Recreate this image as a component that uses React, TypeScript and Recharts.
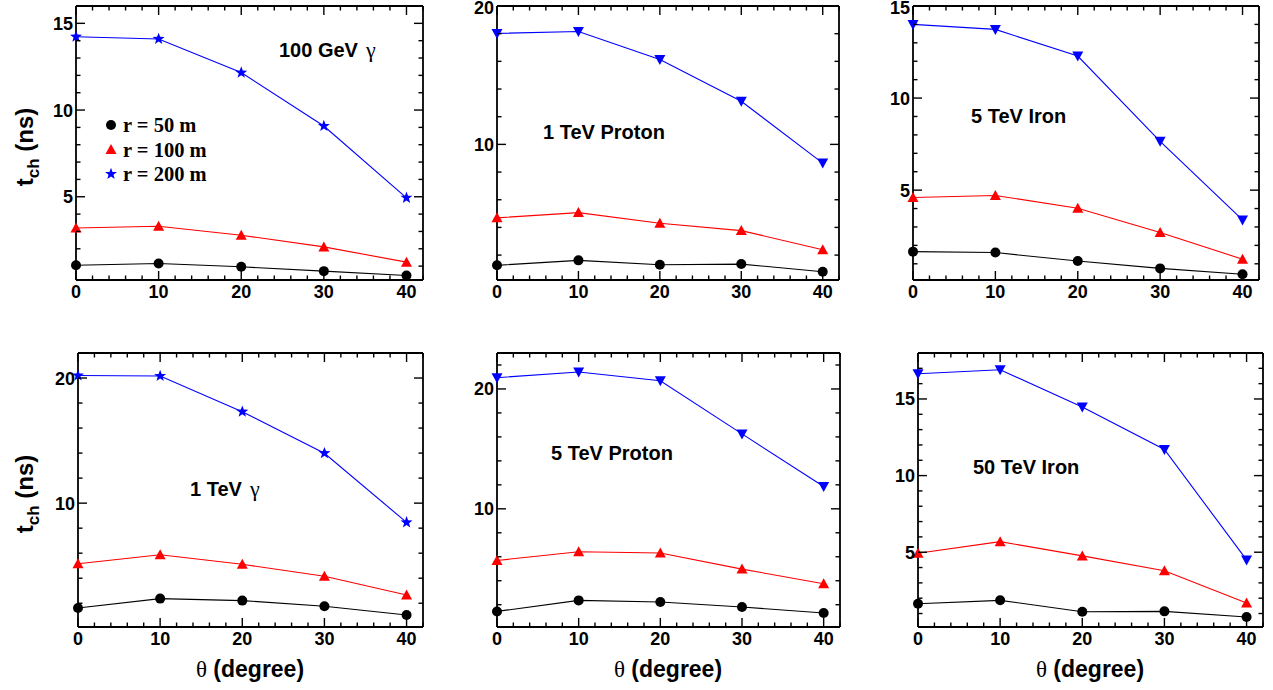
import { LineChart, Line, XAxis, YAxis, ReferenceLine } from 'recharts';

const angles = [0, 10, 20, 30, 40];

// 100 GeV gamma
const gamma100R50 = [1.05, 1.15, 0.96, 0.71, 0.46];
const gamma100R100 = [3.2, 3.3, 2.78, 2.11, 1.23];
const gamma100R200 = [14.23, 14.1, 12.16, 9.08, 4.94];
// 1 TeV proton
const proton1R50 = [1.26, 1.62, 1.3, 1.35, 0.8];
const proton1R100 = [4.69, 5.07, 4.3, 3.77, 2.39];
const proton1R200 = [18.02, 18.16, 16.14, 13.12, 8.65];
// 5 TeV iron
const iron5R50 = [1.66, 1.61, 1.15, 0.75, 0.43];
const iron5R100 = [4.6, 4.71, 4.02, 2.7, 1.25];
const iron5R200 = [14.0, 13.73, 12.28, 7.65, 3.38];
// 1 TeV gamma
const gamma1R50 = [1.62, 2.37, 2.21, 1.76, 1.06];
const gamma1R100 = [5.16, 5.88, 5.11, 4.15, 2.66];
const gamma1R200 = [20.2, 20.16, 17.31, 13.99, 8.46];
// 5 TeV proton
const proton5R50 = [1.44, 2.36, 2.22, 1.81, 1.31];
const proton5R100 = [5.69, 6.42, 6.31, 4.97, 3.75];
const proton5R200 = [20.94, 21.42, 20.69, 16.25, 11.86];
// 50 TeV iron
const iron50R50 = [1.64, 1.86, 1.12, 1.14, 0.77];
const iron50R100 = [4.93, 5.69, 4.76, 3.79, 1.68];
const iron50R200 = [16.65, 16.91, 14.48, 11.7, 4.5];

const xTicks = [0, 2, 4, 6, 8, 10, 12, 14, 16, 18, 20, 22, 24, 26, 28, 30, 32, 34, 36, 38, 40, 42];
const xMajor = [0, 10, 20, 30, 40];
const yTicksFine16 = [1, 2, 3, 4, 5, 6, 7, 8, 9, 10, 11, 12, 13, 14, 15, 16];
const yTicksFine15 = [1, 2, 3, 4, 5, 6, 7, 8, 9, 10, 11, 12, 13, 14, 15];
const yTicksFine18 = [1, 2, 3, 4, 5, 6, 7, 8, 9, 10, 11, 12, 13, 14, 15, 16, 17, 18];
const yTicks20 = [2, 4, 6, 8, 10, 12, 14, 16, 18, 20];
const yTicks22 = [2, 4, 6, 8, 10, 12, 14, 16, 18, 20, 22];
const yMajor5 = [5, 10, 15];
const yMajor10 = [10, 20];

const legendLabels = ['r = 50 m', 'r = 100 m', 'r = 200 m'];

const SANS = '"Liberation Sans", Arial, sans-serif';
const SERIF = '"Liberation Serif", "Times New Roman", serif';

const panels = [
  { name: '100 GeV', gamma: true, r50: gamma100R50, r100: gamma100R100, r200: gamma100R200, star: true,
    yDomain: [0.2, 16], yTicks: yTicksFine16, yMajor: yMajor5,
    box: { l: 76, t: 6, r: 423, b: 280 }, lab: { x: 279, y: 57 } },
  { name: '1 TeV Proton', gamma: false, r50: proton1R50, r100: proton1R100, r200: proton1R200, star: false,
    yDomain: [0.2, 20], yTicks: yTicks20, yMajor: yMajor10,
    box: { l: 497, t: 6, r: 839, b: 280 }, lab: { x: 543, y: 139 } },
  { name: '5 TeV Iron', gamma: false, r50: iron5R50, r100: iron5R100, r200: iron5R200, star: false,
    yDomain: [0.12, 15], yTicks: yTicksFine15, yMajor: yMajor5,
    box: { l: 913, t: 6, r: 1259, b: 280 }, lab: { x: 971, y: 123 } },
  { name: '1 TeV', gamma: true, r50: gamma1R50, r100: gamma1R100, r200: gamma1R200, star: true,
    yDomain: [0.1, 22], yTicks: yTicks22, yMajor: yMajor10,
    box: { l: 78, t: 353, r: 423, b: 627 }, lab: { x: 190, y: 496 } },
  { name: '5 TeV Proton', gamma: false, r50: proton5R50, r100: proton5R100, r200: proton5R200, star: false,
    yDomain: [0.14, 23], yTicks: yTicks22, yMajor: yMajor10,
    box: { l: 497, t: 353, r: 840, b: 627 }, lab: { x: 551, y: 460 } },
  { name: '50 TeV Iron', gamma: false, r50: iron50R50, r100: iron50R100, r200: iron50R200, star: false,
    yDomain: [0.12, 18], yTicks: yTicksFine18, yMajor: yMajor5,
    box: { l: 918, t: 353, r: 1263, b: 627 }, lab: { x: 973, y: 474 } },
];

const starPath = (cx: number, cy: number, ro: number, ri: number) => {
  let d = '';
  for (let i = 0; i < 10; i++) {
    const a = -Math.PI / 2 + (i * Math.PI) / 5;
    const rr = i % 2 === 0 ? ro : ri;
    d += (i === 0 ? 'M' : 'L') + (cx + rr * Math.cos(a)).toFixed(2) + ' ' + (cy + rr * Math.sin(a)).toFixed(2);
  }
  return d + 'Z';
};

const Circle = (cx: number, cy: number, k?: any) => <circle key={k} cx={cx} cy={cy} r={5} fill="#000" />;
const TriUp = (cx: number, cy: number, k?: any) => (
  <path key={k} d={`M${cx - 5.5} ${cy + 4.5}L${cx + 5.5} ${cy + 4.5}L${cx} ${cy - 5.5}Z`} fill="#ff0000" />
);
const TriDown = (cx: number, cy: number, k?: any) => (
  <path key={k} d={`M${cx - 5.5} ${cy - 4.5}L${cx + 5.5} ${cy - 4.5}L${cx} ${cy + 5.5}Z`} fill="#0000ff" />
);
const Star = (cx: number, cy: number, k?: any) => <path key={k} d={starPath(cx, cy, 6.3, 2.6)} fill="#0000ff" />;

const dotFn = (shape: (cx: number, cy: number, k?: any) => any) => (p: any) => shape(p.cx, p.cy, `d${p.index}`);

function Panel({ p }: { p: (typeof panels)[number] }) {
  const plotW = p.box.r - p.box.l;
  const plotH = p.box.b - p.box.t;
  const data = angles.map((a, i) => ({ theta: a, r50: p.r50[i], r100: p.r100[i], r200: p.r200[i] }));

  const yTick = (props: any) => {
    const { x, y, payload } = props;
    const v = payload.value;
    const major = p.yMajor.includes(v);
    const len = major ? 9 : 4.5;
    // keep labels at the very top of the page from being cut off
    const shift = Math.max(0, 8 - (y + p.box.t - 10));
    return (
      <g>
        <line x1={x} y1={y} x2={x + len} y2={y} stroke="#000" strokeWidth={1.4} />
        <line x1={x + plotW} y1={y} x2={x + plotW - len} y2={y} stroke="#000" strokeWidth={1.4} />
        {major && (
          <text x={x - 3} y={y + shift} dy="0.36em" textAnchor="end" fontFamily={SANS} fontWeight="bold" fontSize={18} fill="#000">
            {v}
          </text>
        )}
      </g>
    );
  };

  const xTick = (props: any) => {
    const { x, y, payload } = props;
    const v = payload.value;
    const major = xMajor.includes(v);
    const len = major ? 9 : 4.5;
    return (
      <g>
        <line x1={x} y1={y} x2={x} y2={y - len} stroke="#000" strokeWidth={1.4} />
        <line x1={x} y1={y - plotH} x2={x} y2={y - plotH + len} stroke="#000" strokeWidth={1.4} />
        {major && (
          <text x={x} y={y + 18} textAnchor="middle" fontFamily={SANS} fontWeight="bold" fontSize={18} fill="#000">
            {v}
          </text>
        )}
      </g>
    );
  };

  return (
    <div style={{ position: 'absolute', left: p.box.l - 50, top: p.box.t - 10 }}>
      <LineChart width={plotW + 60} height={plotH + 40} data={data} margin={{ top: 10, right: 10, left: 0, bottom: 0 }}>
        <XAxis
          dataKey="theta"
          type="number"
          domain={[0, 42]}
          ticks={xTicks}
          interval={0}
          tick={xTick}
          tickLine={false}
          tickSize={0}
          tickMargin={0}
          height={30}
          axisLine={{ stroke: '#000', strokeWidth: 1.8 }}
        />
        <YAxis
          type="number"
          domain={p.yDomain}
          ticks={p.yTicks}
          interval={0}
          tick={yTick}
          tickLine={false}
          tickSize={0}
          tickMargin={0}
          width={50}
          axisLine={{ stroke: '#000', strokeWidth: 1.8 }}
        />
        <ReferenceLine x={42} stroke="#000" strokeWidth={1.8} />
        <ReferenceLine y={p.yDomain[1]} stroke="#000" strokeWidth={1.8} />
        <Line dataKey="r50" stroke="#000" strokeWidth={1.1} dot={dotFn(Circle)} activeDot={false} isAnimationActive={false} />
        <Line dataKey="r100" stroke="#ff0000" strokeWidth={1.1} dot={dotFn(TriUp)} activeDot={false} isAnimationActive={false} />
        <Line dataKey="r200" stroke="#0000ff" strokeWidth={1.1} dot={dotFn(p.star ? Star : TriDown)} activeDot={false} isAnimationActive={false} />
      </LineChart>
    </div>
  );
}

export default function App() {
  const legendMarkers = [Circle, TriUp, Star];
  return (
    <div style={{ position: 'absolute', left: 0, top: 0, width: 1273, height: 690, background: '#fff' }}>
      {panels.map((p) => (
        <Panel key={p.name + p.box.t} p={p} />
      ))}
      <svg width={1273} height={690} style={{ position: 'absolute', left: 0, top: 0, pointerEvents: 'none' }}>
        {panels.map((p) => (
          <text key={'lab' + p.name + p.box.t} x={p.lab.x} y={p.lab.y} fontFamily={SANS} fontWeight="bold" fontSize={20} fill="#000">
            {p.name}
            {p.gamma && (
              <tspan fontFamily={SERIF} fontWeight="normal" fontSize={22} dx={8}>
                γ
              </tspan>
            )}
          </text>
        ))}
        {legendLabels.map((l, i) => (
          <g key={l}>
            {legendMarkers[i](111, 125 + i * 24.5)}
            <text x={123} y={125 + i * 24.5} dy="0.35em" fontFamily={SERIF} fontWeight="bold" fontSize={20.5} fill="#000">
              {l}
            </text>
          </g>
        ))}
        {[147, 494].map((cy) => (
          <text key={'yt' + cy} x={33} y={cy} transform={`rotate(-90 33 ${cy})`} textAnchor="middle" fontFamily={SANS} fontWeight="bold" fontSize={24} fill="#000">
            t
            <tspan fontSize={17} dy={6}>ch</tspan>
            <tspan dy={-6}> (ns)</tspan>
          </text>
        ))}
        {[250, 668, 1090].map((cx) => (
          <text key={'xt' + cx} x={cx} y={677} textAnchor="middle" fontFamily={SANS} fontWeight="bold" fontSize={23} fill="#000">
            <tspan fontFamily={SERIF} fontWeight="normal">θ</tspan> (degree)
          </text>
        ))}
      </svg>
    </div>
  );
}
